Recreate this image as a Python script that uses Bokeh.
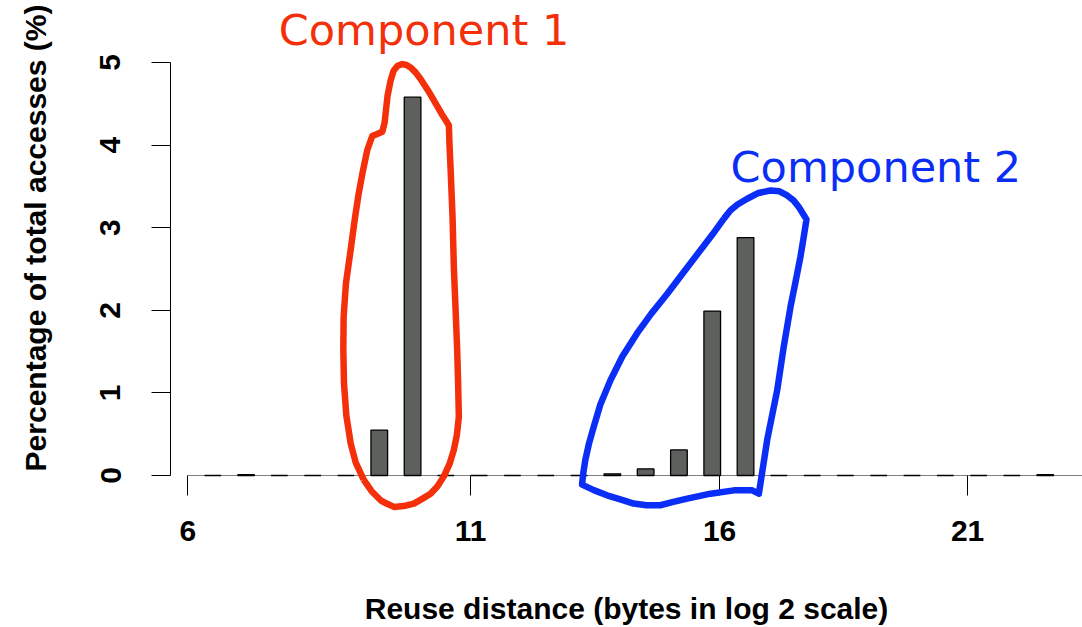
from bokeh.plotting import figure
from bokeh.models import Range1d, FixedTicker
from bokeh.core.properties import value
from bokeh.embed import file_html
from bokeh.resources import INLINE

# ---- data ----
bins = list(range(26))  # bar index along the reuse-distance axis
pct = [0, 0.01, 0, 0, 0, 0.55, 4.58, 0, 0, 0, 0, 0, 0.02, 0.08, 0.31, 1.99, 2.88,
       0, 0, 0, 0, 0, 0, 0, 0, 0.01]
tick_pos = [-0.75, 7.74, 15.22, 22.67]
tick_labels = ["6", "11", "16", "21"]
y_ticks = [0, 1, 2, 3, 4, 5]

# hand-drawn annotation outlines (data units: bar index, percentage)
comp1_x = [4.53, 4.29, 4.14, 4.01, 3.94, 3.92, 3.93, 4.00, 4.14, 4.26, 4.38, 4.50, 4.64, 4.79,
           4.92, 5.09, 5.16, 5.19, 5.25, 5.34, 5.43, 5.55, 5.69, 5.82, 5.94, 6.09, 6.24, 6.45,
           6.64, 6.87, 7.09, 7.11, 7.14, 7.20, 7.24, 7.29, 7.34, 7.37, 7.39, 7.33, 7.24, 7.11,
           6.94, 6.75, 6.54, 6.30, 6.04, 5.73, 5.44, 5.22, 5.04, 4.77, 4.53]
comp1_y = [-0.05, 0.16, 0.39, 0.73, 1.12, 1.52, 1.92, 2.33, 2.73, 3.09, 3.41, 3.67, 3.94, 4.11,
           4.13, 4.16, 4.27, 4.38, 4.60, 4.78, 4.90, 4.96, 4.98, 4.97, 4.94, 4.88, 4.80, 4.67,
           4.54, 4.38, 4.24, 4.00, 3.73, 3.14, 2.52, 2.03, 1.52, 1.09, 0.71, 0.49, 0.31, 0.14,
           -0.01, -0.13, -0.22, -0.28, -0.34, -0.37, -0.38, -0.34, -0.30, -0.19, -0.05]
comp2_x = [15.35, 15.55, 15.76, 16.05, 16.39, 16.75, 17.02, 17.25, 17.44, 17.60, 17.83,
           17.74, 17.65, 17.50, 17.35, 17.14, 16.95, 16.65, 16.40,
           16.20, 15.65, 14.95, 14.25, 13.83, 13.44, 13.02, 12.64, 12.24, 11.84, 11.46, 11.09,
           11.13, 11.19, 11.30, 11.44, 11.64, 11.94, 12.30, 12.74, 13.17, 13.65, 14.14, 14.65,
           15.01, 15.35]
comp2_y = [3.11, 3.21, 3.28, 3.35, 3.42, 3.45, 3.44, 3.39, 3.33, 3.25, 3.10,
           2.87, 2.65, 2.34, 2.04, 1.54, 1.03, 0.43, -0.22,
           -0.18, -0.18, -0.22, -0.28, -0.32, -0.36, -0.36, -0.34, -0.29, -0.24, -0.18, -0.11,
           0.04, 0.19, 0.39, 0.59, 0.86, 1.15, 1.44, 1.72, 1.96, 2.20, 2.46, 2.73,
           2.92, 3.11]

RED = "#F4300A"
BLUE = "#0B2EF6"

p = figure(width=1082, height=627, output_backend="svg", toolbar_location=None,
           x_range=Range1d(-1.27, 26.12), y_range=Range1d(0, 5.75),
           min_border_left=170, min_border_right=0, min_border_top=0, min_border_bottom=151)
p.outline_line_color = None
p.xgrid.visible = False
p.ygrid.visible = False
p.background_fill_color = "white"
p.border_fill_color = "white"

p.vbar(x=bins, top=pct, bottom=0, width=0.5, fill_color="#5E605E",
       line_color="black", line_width=1.3, level="overlay")

p.line(comp1_x, comp1_y, line_color=RED, line_width=6.5, line_join="round", level="overlay")
p.line(comp2_x, comp2_y, line_color=BLUE, line_width=6.5, line_join="round", level="overlay")

p.text(x=[1.98], y=[5.39], text=["Component 1"], text_color=RED,
       text_font=value("DejaVu Sans"), text_font_size="43px",
       text_align="left", text_baseline="alphabetic")
p.text(x=[15.55], y=[3.74], text=["Component 2"], text_color=BLUE,
       text_font=value("DejaVu Sans"), text_font_size="43px",
       text_align="left", text_baseline="alphabetic")

xa = p.xaxis[0]
xa.ticker = FixedTicker(ticks=tick_pos)
xa.major_label_overrides = {t: l for t, l in zip(tick_pos, tick_labels)}
xa.bounds = (tick_pos[0], 26.12)
xa.minor_tick_line_color = None
xa.major_tick_in = 0
xa.major_tick_out = 20
xa.major_label_standoff = 25
xa.axis_label = "Reuse distance (bytes in log 2 scale)"
xa.axis_label_standoff = 48
xa.axis_label_text_line_height = 0.9

ya = p.yaxis[0]
ya.ticker = FixedTicker(ticks=y_ticks)
ya.bounds = (0, 5)
ya.minor_tick_line_color = None
ya.major_tick_in = 0
ya.major_tick_out = 19
ya.major_label_orientation = "vertical"
ya.major_label_standoff = 31
ya.axis_label = "Percentage of total accesses (%)"
ya.axis_label_standoff = 46

for ax in (xa, ya):
    ax.axis_line_color = "black"
    ax.axis_line_width = 1
    ax.major_tick_line_color = "black"
    ax.major_tick_line_width = 1
    ax.major_label_text_font = "Liberation Sans"
    ax.major_label_text_font_style = "bold"
    ax.major_label_text_font_size = "30px"
    ax.major_label_text_color = "black"
    ax.axis_label_text_font = "Liberation Sans"
    ax.axis_label_text_font_style = "bold"
    ax.axis_label_text_font_size = "30px"
    ax.axis_label_text_color = "black"
xa.axis_line_color = "#808080"

open("out.html", "w").write(file_html(p, INLINE))
